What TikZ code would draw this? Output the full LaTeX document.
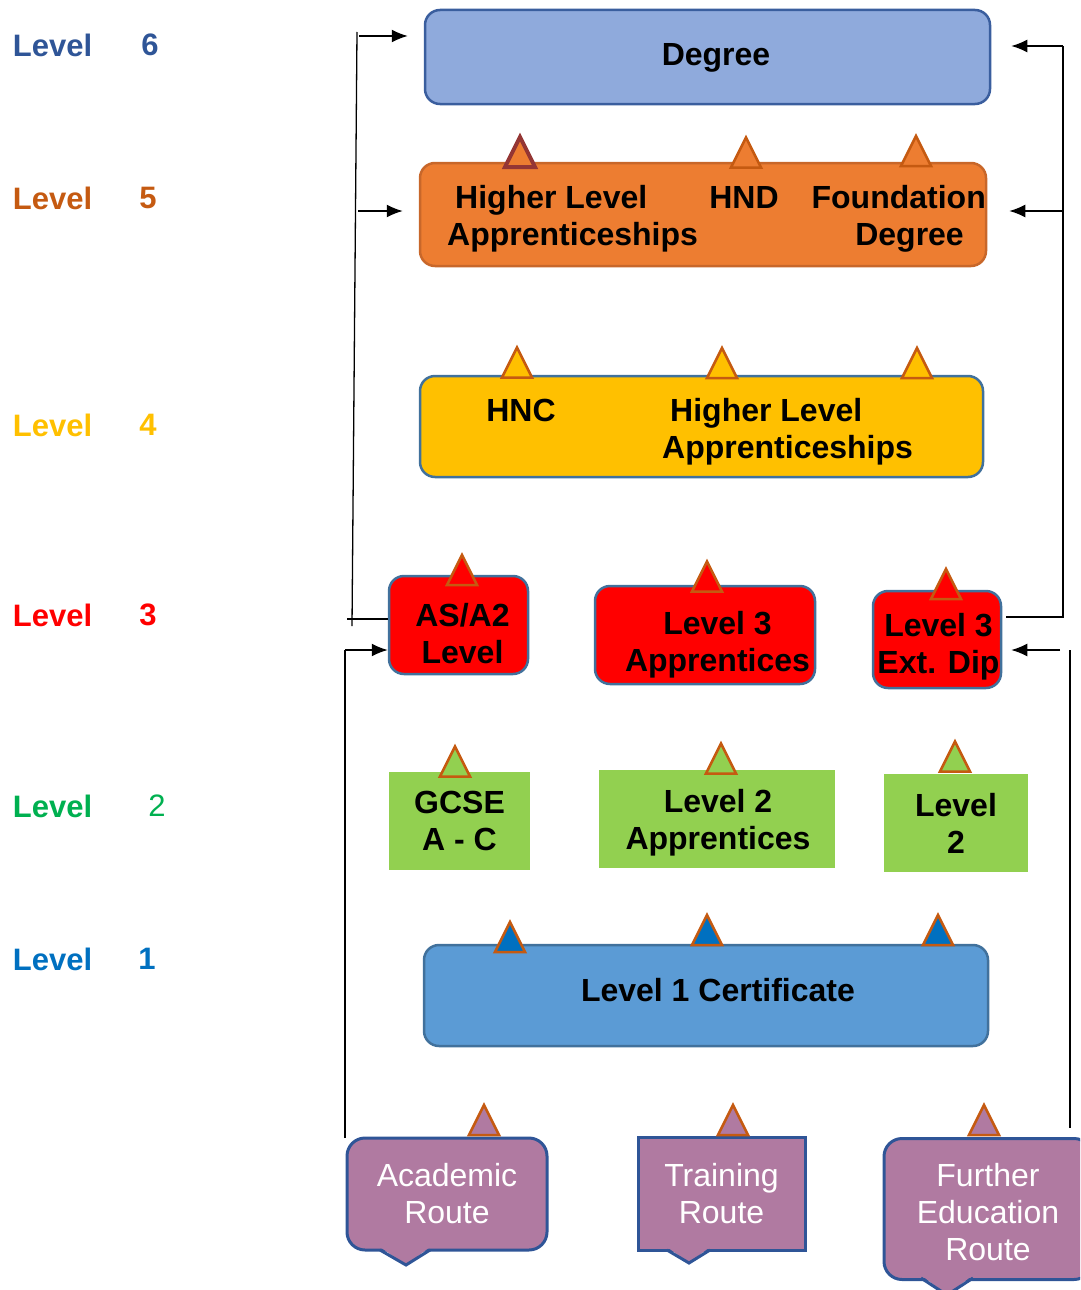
\documentclass[tikz,border=0pt]{standalone}
\usepackage{fontspec}
\setmainfont{Liberation Sans}
\usetikzlibrary{arrows.meta}
\definecolor{sixtext}{HTML}{2F5597}
\definecolor{fivetext}{HTML}{C55A11}
\definecolor{fourtext}{HTML}{FFC000}
\definecolor{threetext}{HTML}{FF0000}
\definecolor{twotext}{HTML}{00B050}
\definecolor{onetext}{HTML}{0070C0}
\definecolor{degfill}{HTML}{8FAADC}
\definecolor{degdraw}{HTML}{3A5E9E}
\definecolor{orfill}{HTML}{ED7D31}
\definecolor{ordraw}{HTML}{C8672A}
\definecolor{yelfill}{HTML}{FFC000}
\definecolor{boxblue}{HTML}{41719C}
\definecolor{grnfill}{HTML}{92D050}
\definecolor{certfill}{HTML}{5B9BD5}
\definecolor{routefill}{HTML}{B07AA1}
\definecolor{routedraw}{HTML}{2F5597}
\definecolor{tridraw}{HTML}{C55A11}
\definecolor{tridark}{HTML}{943634}
\newcommand\lblfont{\fontsize{31}{37}\selectfont\bfseries}
\newcommand\lvlfont{\fontsize{32}{37}\selectfont\bfseries}
\newcommand\routefont{\fontsize{32}{37}\selectfont}
\tikzset{
  lvllabel/.style={inner sep=0pt, font=\lblfont},
  box/.style={rounded corners=15pt, line width=2.5pt, inner sep=0pt},
  grnbox/.style={fill=grnfill, inner sep=0pt, font=\lvlfont, align=center},
  txt/.style={inner sep=0pt, font=\lvlfont, align=center},
  route/.style={fill=routefill, draw=routedraw, line width=3pt, inner sep=0pt, text=white, font=\routefont, align=center},
  routeline/.style={draw=routedraw, line width=3pt, line join=miter},
  tripic/.style={draw=tridraw, line width=2.5pt, line join=miter},
  tri/.pic={\path[pic actions] (-15,15) -- (0,-15) -- (15,15) -- cycle;},
  trunk/.style={line width=1.3pt},
  arr/.style={-{Latex[length=16pt,width=13pt]}, line width=1.5pt}
}
\begin{document}
\begin{tikzpicture}[x=1pt, y=-1pt]
  \useasboundingbox (0,0) rectangle (1080,1290);
  \clip (0,0) rectangle (1080,1290);
  % Level labels
  \foreach \y/\n/\x/\c [count=\i] in {45/6/150/sixtext, 198/5/148/fivetext, 425/4/148/fourtext,
      615/3/148/threetext, 806/{\mdseries 2}/157/twotext, 959/1/147/onetext} {
    \node[lvllabel, text=\c] (lvl\i) at (52.5,\y) {Level};
    \node[lvllabel, text=\c] (num\i) at (\x,\y) {\n};
  }
  % Degree box
  \node[box, fill=degfill, draw=degdraw, minimum width=565pt, minimum height=94pt] (degree) at (707.5,57) {};
  \node[txt] (degtxt) at (716,58) {Degree};
  % Level 5 box
  \node[box, fill=orfill, draw=ordraw, minimum width=566pt, minimum height=103pt] (lvfive) at (703,214.5) {};
  \node[txt, anchor=west, align=left] (hlafive) at (447,218.5) {\hspace*{8pt}Higher Level\\Apprenticeships};
  \node[txt] (hnd) at (744,197) {HND};
  \node[txt, anchor=east, align=right] (fdeg) at (986,218.5) {Foundation\\Degree\hspace*{22pt}};
  % Level 4 box
  \node[box, fill=yelfill, draw=boxblue, minimum width=563pt, minimum height=101pt] (lvfour) at (701.5,426.5) {};
  \node[txt] (hnc) at (521,410) {HNC};
  \node[txt, anchor=west, align=left] (hlafour) at (662,432) {\hspace*{8pt}Higher Level\\Apprenticeships};
  % Level 3 boxes
  \node[box, fill=red, draw=boxblue, minimum width=139pt, minimum height=98pt] (asa2) at (458.5,625) {};
  \node[txt] (asa2txt) at (462.5,634) {AS/A2\\Level};
  \node[box, fill=red, draw=boxblue, minimum width=220pt, minimum height=98pt] (l3app) at (705,635) {};
  \node[txt] (l3apptxt) at (717.5,645) {Level 3\\Apprentices};
  \node[box, fill=red, draw=boxblue, minimum width=128pt, minimum height=97pt] (l3ext) at (937,639.5) {};
  \node[txt] (l3exttxt) at (938.5,646.5) {Level 3\\Ext. Dip};
  % Level 2 boxes
  \node[grnbox, minimum width=141pt, minimum height=98pt] (gcse) at (459.5,821) {GCSE\\A - C};
  \node[grnbox, minimum width=236pt, minimum height=98pt] (l2app) at (717,819) {};
  \node[txt] (l2apptxt) at (718,823) {Level 2\\Apprentices};
  \node[grnbox, minimum width=144pt, minimum height=98pt] (ltwo) at (956,823) {Level\\2};
  % Level 1 box
  \node[box, fill=certfill, draw=boxblue, minimum width=564pt, minimum height=101pt] (lvone) at (706,995.5) {};
  \node[txt] (certtxt) at (718,990) {Level 1 Certificate};
  % Route boxes
  \node[route, rounded corners=18pt, minimum width=200pt, minimum height=112pt] (academic) at (447,1194) {Academic\\Route};
  \node[route, minimum width=167pt, minimum height=113pt] (training) at (721.5,1193.5) {Training\\Route};
  \node[route, rounded corners=18pt, minimum width=208pt, minimum height=141pt] (further) at (988,1209) {};
  \node[route, fill=none, draw=none] (furthertxt) at (988,1212.5) {Further\\Education\\Route};
  % Route pointers
  \fill[routefill] (380,1247) -- (406,1265) -- (430,1247) -- cycle;
  \draw[routeline] (380,1250) -- (406,1265) -- (430,1250);
  \fill[routefill] (667,1247) -- (689,1263) -- (710,1247) -- cycle;
  \draw[routeline] (667,1250) -- (689,1263) -- (710,1250);
  \fill[routefill] (921,1275) -- (947,1295) -- (973,1275) -- cycle;
  \draw[routeline] (921,1278) -- (947,1295) -- (973,1278);
  % Triangles
  \pic[tripic, draw=tridark, line width=4pt, fill=orfill] at (520,152) {tri};
  \foreach \x/\y in {746/152.5, 916/151} \pic[tripic, fill=orfill] at (\x,\y) {tri};
  \foreach \x/\y in {517/362.5, 722/363, 917/363} \pic[tripic, fill=yelfill] at (\x,\y) {tri};
  \foreach \x/\y in {462/570, 707/576.5, 946/584} \pic[tripic, fill=red] at (\x,\y) {tri};
  \foreach \x/\y in {455/761.5, 721/758.5, 955/756.5} \pic[tripic, fill=grnfill] at (\x,\y) {tri};
  \foreach \x/\y in {510/937, 707/930, 938/930} \pic[tripic, fill=onetext] at (\x,\y) {tri};
  \foreach \x/\y in {484/1120, 733/1120, 984/1120} \pic[tripic, fill=routefill] at (\x,\y) {tri};
  % Left connectors
  \coordinate (ltop) at (357,32);
  \coordinate (lbot) at (352,626);
  \coordinate (lstub) at (347,619);
  \coordinate (lsix) at (359,36);
  \coordinate (lfive) at (358,211);
  \coordinate (lmid) at (345,650);
  \coordinate (llow) at (345,1138);
  \draw[trunk] (ltop) -- (lbot);
  \draw[trunk] (lstub) -- (lstub -| asa2.west);
  \draw[arr, shorten >=16pt] (lsix) -- (lsix -| degree.west);
  \draw[arr, shorten >=16pt] (lfive) -- (lfive -| lvfive.west);
  \draw[trunk] (llow) -- (lmid);
  \draw[arr] (lmid) -- (lmid -| asa2.west);
  % Right connectors
  \coordinate (rtop) at (1063,46);
  \coordinate (rbot) at (1063,617);
  \coordinate (rfive) at (1063,211);
  \coordinate (rarr) at (1060,650);
  \coordinate (rmid) at (1070,650);
  \coordinate (rlow) at (1070,1128);
  \draw[trunk, shorten >=4pt] (rtop) -- (rbot) -- (rbot -| l3ext.east);
  \draw[arr, shorten >=20pt] (rtop) -- (rtop -| degree.east);
  \draw[arr, shorten >=22pt] (rfive) -- (rfive -| lvfive.east);
  \draw[trunk] (rmid) -- (rlow);
  \draw[arr, shorten >=9pt] (rarr) -- (rarr -| l3ext.east);
\end{tikzpicture}
\end{document}
